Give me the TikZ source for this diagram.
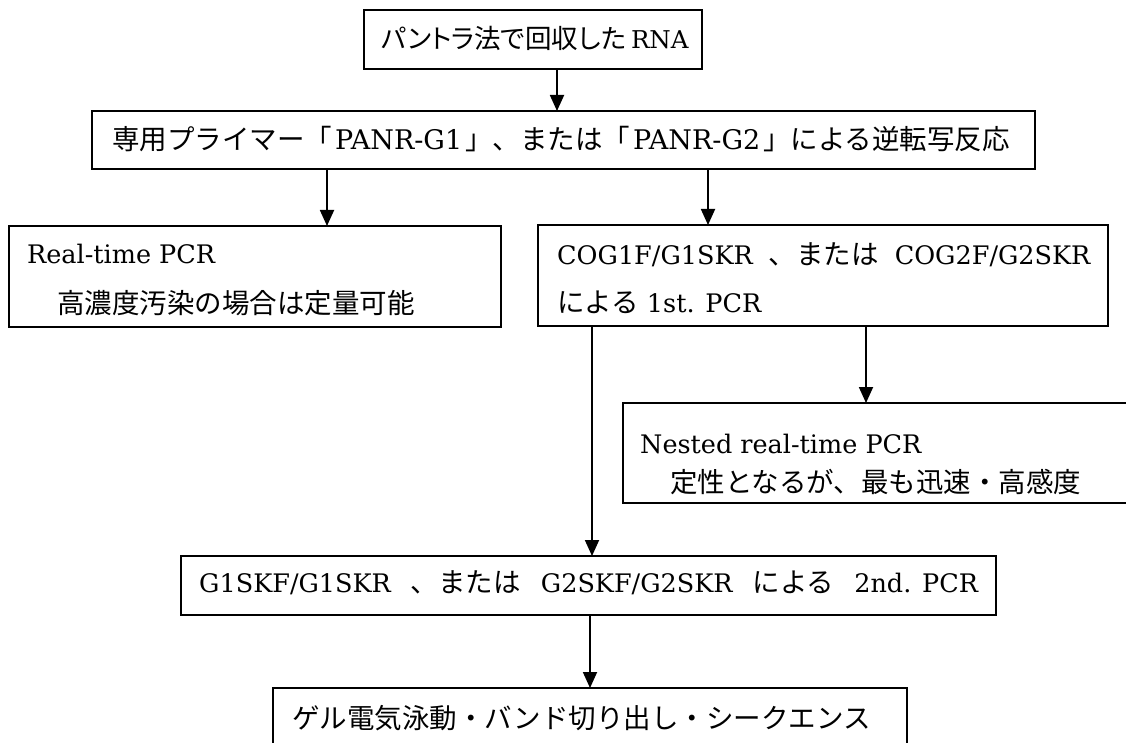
\documentclass[tikz,border=0pt]{standalone}
\usepackage{fontspec}
\setmainfont{DejaVu Serif}
\newfontfamily\jpfont{Noto Sans CJK JP}
\newfontfamily\jppfont[RawFeature=+palt]{Noto Sans CJK JP}
\usetikzlibrary{arrows.meta}
\newcommand\jt[1]{{\jpfont\fontsize{27.5}{33}\selectfont #1}}
\newcommand\jtp[1]{{\jppfont\fontsize{26.5}{33}\selectfont #1}}
\newcommand\gapx[1]{\hspace{#1pt}}
\begin{document}
\begin{tikzpicture}[x=1pt,y=-1pt,
  box/.style={draw, line width=1.8pt, inner sep=0pt, outer sep=0pt, rectangle},
  arr/.style={line width=1.8pt, -{Triangle[width=14pt,length=16pt]}},
  txt/.style={anchor=base west, inner sep=0pt, font=\fontsize{25.5}{33}\selectfont}]
\useasboundingbox (0,0) rectangle (1126,743);
\clip (0,0) rectangle (1126,743);
% boxes
\node[box, minimum width=338pt, minimum height=59pt] (top) at (533,39.5) {};
\node[box, minimum width=943pt, minimum height=58pt] (rt) at (563.5,140) {};
\node[box, minimum width=492pt, minimum height=101pt] (real) at (255,276.5) {};
\node[box, minimum width=570pt, minimum height=101pt] (cog) at (823,275.5) {};
\node[box, minimum width=517pt, minimum height=100pt] (nested) at (881.5,453) {};
\node[box, minimum width=815pt, minimum height=59pt] (second) at (588.5,585.5) {};
\node[box, minimum width=634pt, minimum height=72pt] (gel) at (590,724) {};
% texts
\node[txt] (t1) at (381,49) {\jtp{パントラ法で回収した}\gapx{5}{\fontsize{24.5}{33}\selectfont RNA}};
\node[txt] (t2) at (112,150) {\jt{専用プライマー「}\gapx{3}{\fontsize{27}{33}\selectfont PANR-G1}\gapx{3}\jt{」、または「}\gapx{3}{\fontsize{27}{33}\selectfont PANR-G2}\gapx{3}\jt{」による逆転写反応}};
\node[txt] (t3) at (27,263) {Real-time PCR};
\node[txt] (t4) at (57,313) {\jt{高濃度汚染の場合は定量可能}};
\node[txt] (t5) at (557,264) {COG1F/G1SKR\gapx{16}\jt{、または}\gapx{16}COG2F/G2SKR};
\node[txt] (t6) at (557,312) {\jt{による} 1st. PCR};
\node[txt] (t7) at (640,453) {Nested real-time PCR};
\node[txt] (t8) at (670,492) {\jt{定性となるが、最も迅速・高感度}};
\node[txt] (t9) at (199,592) {G1SKF/G1SKR\gapx{20}\jt{、または}\gapx{20}G2SKF/G2SKR\gapx{20}\jt{による}\gapx{20}2nd. PCR};
\node[txt] (t10) at (292,728) {\jt{ゲル電気泳動・バンド切り出し・シークエンス}};
% connectors
\draw[arr] ([xshift=24pt]top.south) -- ([xshift=24pt]top.south |- rt.north);
\draw[arr] ([xshift=-236.5pt]rt.south) -- ([xshift=-236.5pt]rt.south |- real.north);
\draw[arr] ([xshift=144.5pt]rt.south) -- ([xshift=144.5pt]rt.south |- cog.north);
\draw[arr] ([xshift=-231pt]cog.south) -- ([xshift=-231pt]cog.south |- second.north);
\draw[arr] ([xshift=43pt]cog.south) -- ([xshift=43pt]cog.south |- nested.north);
\draw[arr] ([xshift=1.5pt]second.south) -- ([xshift=1.5pt]second.south |- gel.north);
\end{tikzpicture}
\end{document}
